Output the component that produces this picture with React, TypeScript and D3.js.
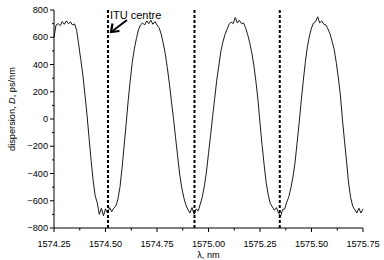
import React from "react";
import * as d3 from "d3";

// Measured dispersion D (ps/nm) vs wavelength (nm)
const wavelengths: number[] = [
  1574.25, 1574.26, 1574.27, 1574.28, 1574.29, 1574.30, 1574.31, 1574.32, 1574.33, 1574.34,
  1574.35, 1574.36, 1574.37, 1574.38, 1574.39, 1574.40, 1574.41, 1574.42, 1574.43, 1574.44,
  1574.45, 1574.46, 1574.47, 1574.48, 1574.49, 1574.50, 1574.51, 1574.52, 1574.53, 1574.54,
  1574.55, 1574.56, 1574.57, 1574.58, 1574.59, 1574.60, 1574.61, 1574.62, 1574.63, 1574.64,
  1574.65, 1574.66, 1574.67, 1574.68, 1574.69, 1574.70, 1574.71, 1574.72, 1574.73, 1574.74,
  1574.75, 1574.76, 1574.77, 1574.78, 1574.79, 1574.80, 1574.81, 1574.82, 1574.83, 1574.84,
  1574.85, 1574.86, 1574.87, 1574.88, 1574.89, 1574.90, 1574.91, 1574.92, 1574.93, 1574.94,
  1574.95, 1574.96, 1574.97, 1574.98, 1574.99, 1575.00, 1575.01, 1575.02, 1575.03, 1575.04,
  1575.05, 1575.06, 1575.07, 1575.08, 1575.09, 1575.10, 1575.11, 1575.12, 1575.13, 1575.14,
  1575.15, 1575.16, 1575.17, 1575.18, 1575.19, 1575.20, 1575.21, 1575.22, 1575.23, 1575.24,
  1575.25, 1575.26, 1575.27, 1575.28, 1575.29, 1575.30, 1575.31, 1575.32, 1575.33, 1575.34,
  1575.35, 1575.36, 1575.37, 1575.38, 1575.39, 1575.40, 1575.41, 1575.42, 1575.43, 1575.44,
  1575.45, 1575.46, 1575.47, 1575.48, 1575.49, 1575.50, 1575.51, 1575.52, 1575.53, 1575.54,
  1575.55, 1575.56, 1575.57, 1575.58, 1575.59, 1575.60, 1575.61, 1575.62, 1575.63, 1575.64,
  1575.65, 1575.66, 1575.67, 1575.68, 1575.69, 1575.70, 1575.71, 1575.72, 1575.73, 1575.74,
  1575.75,
];

const dispersion: number[] = [
  600, 690, 700, 685, 715, 695, 720, 700, 712, 690,
  698, 650, 545, 436, 324, 182, 35, -136, -302, -451,
  -564, -615, -700, -655, -710, -660, -690, -650, -680, -655,
  -640, -590, -503, -365, -204, -40, 133, 282, 416, 515,
  590, 655, 690, 705, 690, 720, 700, 725, 695, 715,
  690, 670, 625, 558, 480, 377, 260, 131, 4, -135,
  -270, -404, -503, -576, -630, -665, -690, -650, -700, -660,
  -675, -625, -571, -490, -388, -253, -120, 18, 150, 285,
  390, 497, 566, 620, 658, 695, 712, 700, 745, 705,
  725, 700, 705, 670, 620, 560, 487, 395, 278, 143,
  -30, -190, -335, -467, -557, -620, -645, -670, -650, -690,
  -715, -665, -660, -610, -570, -505, -425, -321, -175, -30,
  130, 280, 415, 530, 610, 668, 705, 715, 750, 705,
  720, 695, 690, 660, 625, 570, 510, 416, 305, 180,
  0, -157, -308, -470, -575, -640, -665, -690, -655, -690,
  -660,
];

// ITU grid centre wavelengths (dashed markers)
const ituCentres: number[] = [1574.512, 1574.932, 1575.346];

const xTicks: number[] = [1574.25, 1574.5, 1574.75, 1575.0, 1575.25, 1575.5, 1575.75];
const xMinorTicks: number[] = [1574.375, 1574.625, 1574.875, 1575.125, 1575.375, 1575.625];
const yTicks: number[] = [-800, -600, -400, -200, 0, 200, 400, 600, 800];
const yMinorTicks: number[] = [-700, -500, -300, -100, 100, 300, 500, 700];

const annotation = "ITU centre";
const xLabel = "λ, nm";

export default function App() {
  const W = 384;
  const H = 260;
  const left = 54;
  const right = 363;
  const top = 10;
  const bottom = 228;

  const x = d3.scaleLinear().domain([1574.25, 1575.75]).range([left, right]);
  const y = d3.scaleLinear().domain([-800, 800]).range([bottom, top]);

  const pts: [number, number][] = wavelengths.map((w, i) => [w, dispersion[i]]);
  const line = d3
    .line<[number, number]>()
    .x((d) => x(d[0]))
    .y((d) => y(d[1]));

  const font = "'Liberation Sans', Arial, Helvetica, sans-serif";
  const fmtX = d3.format(".2f");
  const fmtY = (v: number) => (v < 0 ? "\u2212" + Math.abs(v) : String(v));

  return (
    <svg
      width={W}
      height={H}
      style={{ position: "absolute", left: 0, top: 0, background: "#fff" }}
      fontFamily={font}
    >
      {/* ITU dashed lines */}
      {ituCentres.map((c, i) => (
        <line
          key={"itu" + i}
          x1={x(c)}
          x2={x(c)}
          y1={y(800)}
          y2={y(-800)}
          stroke="#000"
          strokeWidth={2}
          strokeDasharray="3,2"
        />
      ))}

      {/* data curve */}
      <path d={line(pts) || ""} fill="none" stroke="#000" strokeWidth={0.9} strokeLinejoin="round" />

      {/* axes */}
      <line x1={left} x2={left} y1={top} y2={bottom} stroke="#000" strokeWidth={1} />
      <line x1={left} x2={right} y1={bottom} y2={bottom} stroke="#000" strokeWidth={1} />

      {yTicks.map((t) => (
        <g key={"yt" + t}>
          <line x1={left - 4} x2={left} y1={y(t)} y2={y(t)} stroke="#000" strokeWidth={1} />
          <text x={left - 6} y={y(t)} dy="0.35em" textAnchor="end" fontSize={9.2} fill="#000">
            {fmtY(t)}
          </text>
        </g>
      ))}
      {yMinorTicks.map((t) => (
        <line key={"ym" + t} x1={left - 2} x2={left} y1={y(t)} y2={y(t)} stroke="#000" strokeWidth={1} />
      ))}

      {xTicks.map((t) => (
        <g key={"xt" + t}>
          <line x1={x(t)} x2={x(t)} y1={bottom} y2={bottom + 4} stroke="#000" strokeWidth={1} />
          <text x={x(t)} y={bottom + 18.5} textAnchor="middle" fontSize={9.2} fill="#000">
            {fmtX(t)}
          </text>
        </g>
      ))}
      {xMinorTicks.map((t) => (
        <line key={"xm" + t} x1={x(t)} x2={x(t)} y1={bottom} y2={bottom + 2.5} stroke="#000" strokeWidth={1} />
      ))}

      {/* axis titles */}
      <text x={(left + right) / 2} y={258} textAnchor="middle" fontSize={9.2} fill="#000">
        {xLabel}
      </text>
      <text
        transform={`translate(15, 109) rotate(-90)`}
        textAnchor="middle"
        fontSize={9.2}
        fill="#000"
      >
        dispersion, <tspan fontStyle="italic">D</tspan>, ps/nm
      </text>

      {/* annotation */}
      <text x={x(ituCentres[0]) + 2} y={18.5} fontSize={11} fill="#000">
        {annotation}
      </text>
      <line x1={127} y1={20} x2={112.5} y2={31} stroke="#000" strokeWidth={2} />
      <polyline points="112.5,23.5 111,32 119.5,31" fill="none" stroke="#000" strokeWidth={2.2} strokeLinejoin="miter" />
    </svg>
  );
}
